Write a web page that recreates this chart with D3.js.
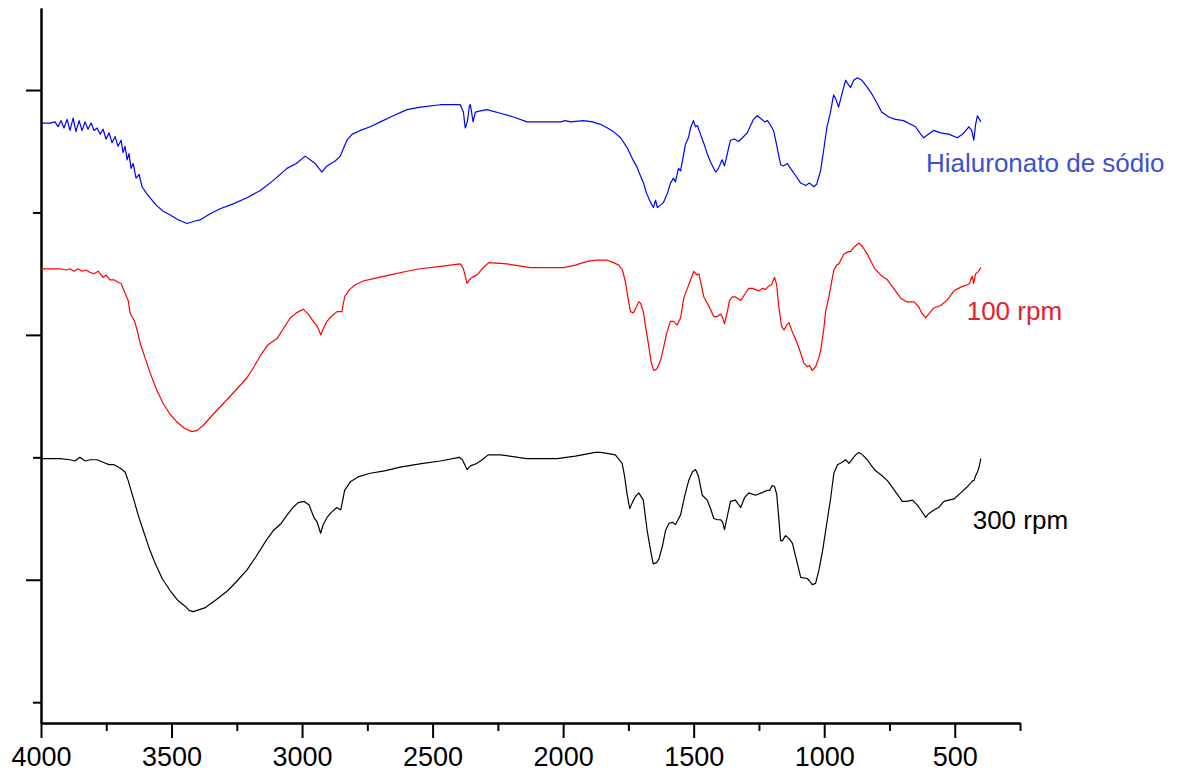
<!DOCTYPE html>
<html>
<head>
<meta charset="utf-8">
<script src="https://cdn.jsdelivr.net/npm/d3@7"></script>
<style>
    body { margin: 0; background: #fff; }
    svg { display: block; }
    .axis path, .axis line { stroke: #000; stroke-width: 2; }
    .axis text { font-family: Arial, "Liberation Sans", sans-serif; font-size: 27px; fill: #000; }
</style>
</head>
<body>
<div class="chart"></div>
<script>
"use strict";

// wavenumber (cm-1), transmittance (arb. units, curves stacked)
const hialuronato = [
    [4000,47.3],[3965,47.3],[3946,47.4],[3935,47.0],[3923,47.5],[3912,46.9],[3900,47.6],[3889,46.7],
    [3877,47.7],[3866,46.6],[3854,47.5],[3843,46.7],[3831,47.4],[3820,46.8],[3808,47.3],[3797,46.7],
    [3785,46.9],[3774,46.4],[3762,46.8],[3751,46.0],[3739,46.5],[3728,45.7],[3716,46.2],[3705,45.4],
    [3693,45.9],[3686,44.9],[3678,45.4],[3670,44.3],[3663,44.8],[3655,43.6],[3647,44.0],[3636,42.8],
    [3624,43.1],[3613,42.1],[3597,41.6],[3582,41.2],[3559,40.6],[3532,40.1],[3505,39.8],[3475,39.4],
    [3441,39.1],[3410,39.3],[3390,39.4],[3352,39.9],[3314,40.3],[3264,40.7],[3211,41.2],[3160,41.8],
    [3111,42.6],[3058,43.6],[3022,44.0],[2988,44.6],[2950,44.0],[2924,43.3],[2905,43.8],[2873,44.2],
    [2854,44.6],[2842,45.2],[2828,45.9],[2808,46.4],[2777,46.7],[2739,47.0],[2700,47.4],[2651,47.9],
    [2598,48.4],[2547,48.6],[2470,48.8],[2394,48.8],[2382,48.2],[2375,46.9],[2367,47.4],[2359,48.7],
    [2355,48.8],[2345,47.4],[2336,48.2],[2317,48.3],[2292,48.4],[2240,48.1],[2190,47.8],[2138,47.4],
    [2068,47.4],[2010,47.4],[1991,47.5],[1972,47.4],[1922,47.5],[1888,47.4],[1857,47.2],[1830,46.9],
    [1807,46.6],[1780,46.1],[1755,45.3],[1735,44.4],[1717,43.7],[1704,43.0],[1692,42.4],[1681,41.6],
    [1669,41.0],[1662,40.7],[1654,40.4],[1646,41.0],[1639,40.4],[1627,40.6],[1616,40.8],[1600,41.6],
    [1589,42.4],[1577,42.8],[1570,42.5],[1558,43.6],[1550,43.4],[1539,44.7],[1531,45.6],[1520,46.1],
    [1512,46.9],[1501,47.5],[1493,47.0],[1486,47.1],[1474,46.4],[1462,45.7],[1448,44.8],[1435,44.1],
    [1416,43.3],[1405,43.6],[1391,44.3],[1382,43.8],[1370,44.9],[1359,45.9],[1344,46.0],[1328,45.8],
    [1313,46.1],[1295,46.5],[1282,47.1],[1271,47.6],[1257,47.9],[1244,47.7],[1228,47.4],[1217,47.5],
    [1205,47.1],[1194,46.7],[1182,45.5],[1167,43.9],[1156,43.8],[1141,44.0],[1129,43.6],[1109,43.0],
    [1090,42.4],[1071,42.2],[1056,42.4],[1040,42.1],[1029,42.3],[1014,43.4],[1002,45.1],[990,46.9],
    [975,48.3],[964,49.6],[956,49.3],[945,48.6],[933,49.6],[918,50.8],[906,50.4],[899,50.2],
    [887,50.8],[873,51.0],[856,50.8],[834,50.2],[818,49.7],[797,48.9],[780,48.2],[753,47.8],
    [727,47.6],[696,47.5],[669,47.2],[650,47.0],[634,46.5],[619,46.1],[600,46.4],[581,46.7],
    [554,46.5],[523,46.4],[490,46.1],[469,46.4],[446,47.0],[435,46.7],[427,45.9],[420,47.2],
    [413,47.9],[400,47.4]
];

const rpm100 = [
    [4000,35.4],[3965,35.4],[3927,35.4],[3904,35.3],[3889,35.4],[3874,35.2],[3858,35.4],[3843,35.2],
    [3827,35.3],[3812,35.1],[3797,35.0],[3781,35.2],[3762,34.7],[3751,34.9],[3736,34.5],[3720,34.5],
    [3705,34.3],[3693,34.2],[3678,33.4],[3666,32.8],[3659,31.8],[3652,31.5],[3643,31.2],[3632,30.4],
    [3620,29.3],[3601,28.1],[3582,26.9],[3559,25.6],[3532,24.4],[3505,23.5],[3480,22.9],[3452,22.4],
    [3422,22.1],[3402,22.2],[3379,22.6],[3337,23.6],[3288,24.7],[3249,25.6],[3211,26.5],[3187,27.3],
    [3160,28.3],[3130,29.2],[3096,29.7],[3072,30.5],[3045,31.4],[3022,31.8],[2996,32.1],[2976,31.7],
    [2957,31.1],[2942,30.7],[2928,30.0],[2919,30.5],[2905,31.1],[2888,31.5],[2866,31.9],[2847,31.9],
    [2842,32.6],[2835,33.2],[2819,33.7],[2796,34.1],[2766,34.4],[2727,34.6],[2662,34.9],[2598,35.2],
    [2547,35.4],[2470,35.6],[2394,35.8],[2382,35.4],[2368,34.2],[2359,34.5],[2349,34.7],[2330,34.9],
    [2310,35.4],[2285,35.9],[2215,35.8],[2125,35.5],[1998,35.5],[1953,35.7],[1908,36.0],[1872,36.1],
    [1831,36.1],[1807,35.9],[1787,35.7],[1773,35.3],[1761,34.3],[1750,32.8],[1742,31.9],[1731,31.8],
    [1719,32.3],[1710,32.7],[1704,32.6],[1693,31.9],[1685,30.8],[1673,29.2],[1662,27.7],[1653,27.1],
    [1642,27.2],[1627,27.9],[1616,28.9],[1604,30.1],[1589,31.1],[1577,31.1],[1563,30.8],[1550,31.4],
    [1538,33.0],[1524,33.8],[1512,34.5],[1499,35.2],[1489,34.9],[1480,35.0],[1474,34.4],[1461,33.1],
    [1443,32.4],[1423,31.5],[1409,31.5],[1397,31.7],[1389,31.4],[1382,30.9],[1370,32.0],[1363,32.8],
    [1352,33.1],[1340,33.1],[1320,32.8],[1305,33.3],[1289,33.8],[1274,33.8],[1263,33.7],[1250,33.6],
    [1236,33.8],[1225,33.7],[1212,34.0],[1202,34.1],[1190,34.7],[1182,34.1],[1174,32.3],[1163,30.7],
    [1154,30.4],[1144,30.8],[1135,31.0],[1125,30.4],[1103,29.3],[1090,28.5],[1078,27.7],[1064,27.4],
    [1056,27.5],[1046,27.1],[1033,27.4],[1021,28.1],[1014,28.7],[1002,30.4],[994,32.0],[982,33.1],
    [971,34.4],[963,35.3],[952,35.7],[944,35.8],[924,36.6],[907,36.8],[899,36.8],[884,37.2],
    [867,37.5],[853,37.2],[835,36.6],[809,35.5],[784,34.9],[758,34.5],[734,33.8],[707,33.0],
    [684,32.7],[656,32.7],[638,32.3],[627,31.8],[611,31.4],[600,31.7],[580,32.2],[554,32.4],
    [531,32.8],[503,33.6],[477,33.9],[452,34.1],[443,34.2],[439,34.5],[433,34.8],[428,34.2],
    [420,35.0],[412,35.1],[400,35.5]
];

const rpm300 = [
    [4000,19.9],[3927,19.9],[3889,19.8],[3870,19.7],[3851,20.0],[3831,19.7],[3812,19.8],[3785,19.8],
    [3762,19.6],[3740,19.4],[3720,19.4],[3696,19.1],[3678,18.8],[3666,18.1],[3655,17.3],[3644,16.5],
    [3628,15.3],[3608,14.0],[3586,12.6],[3564,11.4],[3536,10.1],[3505,9.1],[3475,8.3],[3446,7.8],
    [3433,7.5],[3417,7.4],[3402,7.5],[3373,7.7],[3333,8.3],[3285,9.1],[3249,9.9],[3211,10.8],
    [3176,11.9],[3138,13.2],[3111,14.0],[3080,14.6],[3057,15.3],[3035,15.9],[3015,16.3],[2992,16.4],
    [2973,16.1],[2955,15.1],[2942,14.7],[2929,13.8],[2919,14.5],[2904,15.1],[2888,15.5],[2867,15.9],
    [2852,15.7],[2846,16.3],[2837,17.3],[2815,18.0],[2786,18.4],[2739,18.7],[2684,18.9],[2624,19.2],
    [2537,19.5],[2470,19.7],[2398,20.0],[2386,19.8],[2368,19.0],[2355,19.3],[2331,19.5],[2310,19.8],
    [2287,20.2],[2240,20.2],[2141,19.9],[2023,19.9],[1953,20.1],[1877,20.4],[1857,20.4],[1826,20.3],
    [1800,20.2],[1774,19.5],[1765,18.5],[1755,17.0],[1745,15.8],[1735,16.3],[1723,16.8],[1710,17.1],
    [1693,16.5],[1678,14.0],[1665,12.4],[1655,11.3],[1642,11.4],[1633,11.7],[1619,12.8],[1608,14.0],
    [1595,14.6],[1581,14.7],[1570,14.5],[1550,15.3],[1535,16.8],[1519,18.1],[1505,18.8],[1493,19.0],
    [1482,18.5],[1467,16.9],[1448,16.5],[1435,15.8],[1423,15.0],[1409,14.9],[1397,14.9],[1389,14.7],
    [1382,14.1],[1370,15.3],[1359,16.4],[1340,16.5],[1320,15.9],[1305,16.7],[1289,17.1],[1263,16.9],
    [1240,17.1],[1218,17.3],[1209,17.3],[1199,17.7],[1190,17.6],[1182,17.0],[1175,15.3],[1167,13.2],
    [1160,13.2],[1148,13.6],[1136,13.4],[1122,13.0],[1106,11.6],[1090,10.2],[1065,10.1],[1056,9.9],
    [1046,9.6],[1033,9.7],[1020,10.8],[1006,12.4],[988,14.9],[975,16.7],[963,18.7],[949,19.4],
    [931,19.6],[918,19.8],[905,19.5],[891,19.9],[880,20.2],[867,20.4],[853,20.2],[835,19.8],
    [822,19.4],[803,18.9],[784,18.6],[758,18.1],[734,17.4],[701,16.4],[684,16.4],[662,16.5],
    [643,16.1],[630,15.7],[611,15.1],[600,15.4],[580,15.7],[562,15.9],[541,16.4],[523,16.5],
    [503,16.6],[477,17.1],[452,17.6],[439,17.9],[431,18.1],[426,18.1],[420,18.5],[413,18.8],
    [408,19.1],[400,19.9]
];

const seriesNames  = ["Hialuronato de sódio", "100 rpm", "300 rpm"];
const xMajorTicks  = [4000, 3500, 3000, 2500, 2000, 1500, 1000, 500];
const xMinorTicks  = [3750, 3250, 2750, 2250, 1750, 1250, 750, 250];
const yMajorTicks  = [10, 30, 50];
const yMinorTicks  = [0, 20, 40];

const size = {width: 1198, height: 773};
const margin = {top: 8, right: 178, bottom: 50, left: 41};
const width = size.width - margin.left - margin.right;
const height = size.height - margin.top - margin.bottom;

const svg = d3.select(".chart").append("svg")
    .attr("width", size.width)
    .attr("height", size.height)
    .append("g")
    .attr("transform", "translate(" + margin.left + "," + margin.top + ")");

const x = d3.scaleLinear().domain([4000, 250]).range([0, width]);
const y = d3.scaleLinear().domain([-1.7, 56.7]).range([height, 0]);

// x axis: labelled major ticks + short minor ticks
svg.append("g")
    .attr("class", "x axis")
    .attr("transform", "translate(0," + height + ")")
    .call(d3.axisBottom(x).tickValues(xMajorTicks).tickFormat(d3.format("d"))
        .tickSize(15).tickPadding(9).tickSizeOuter(0));
svg.append("g")
    .attr("class", "x axis")
    .attr("transform", "translate(0," + height + ")")
    .call(d3.axisBottom(x).tickValues(xMinorTicks).tickSize(8).tickFormat("").tickSizeOuter(0));

// y axis has no labels in the original
svg.append("g")
    .attr("class", "y axis")
    .call(d3.axisLeft(y).tickValues(yMajorTicks).tickSize(15).tickFormat("").tickSizeOuter(0));
svg.append("g")
    .attr("class", "y axis")
    .call(d3.axisLeft(y).tickValues(yMinorTicks).tickSize(8).tickFormat("").tickSizeOuter(0));

const line = d3.line()
    .x(d => x(d[0]))
    .y(d => y(d[1]));

const curves = [
    {data: hialuronato, color: "#0000ff", text: "#3c50d0", lx: 926, ly: 171.7},
    {data: rpm100,      color: "#ff0000", text: "#e8202a", lx: 966.7, ly: 320},
    {data: rpm300,      color: "#000000", text: "#000000", lx: 972.7, ly: 529.3}
];

curves.forEach((c, i) => {
    svg.append("path")
        .datum(c.data)
        .attr("fill", "none")
        .attr("stroke", c.color)
        .attr("stroke-width", 1.2)
        .attr("stroke-linejoin", "round")
        .attr("d", line);

    svg.append("text")
        .attr("x", c.lx - margin.left)
        .attr("y", c.ly - margin.top)
        .style("font-family", "Arial, 'Liberation Sans', sans-serif")
        .style("font-size", "26px")
        .style("fill", c.text)
        .text(seriesNames[i]);
});
</script>
</body>
</html>
